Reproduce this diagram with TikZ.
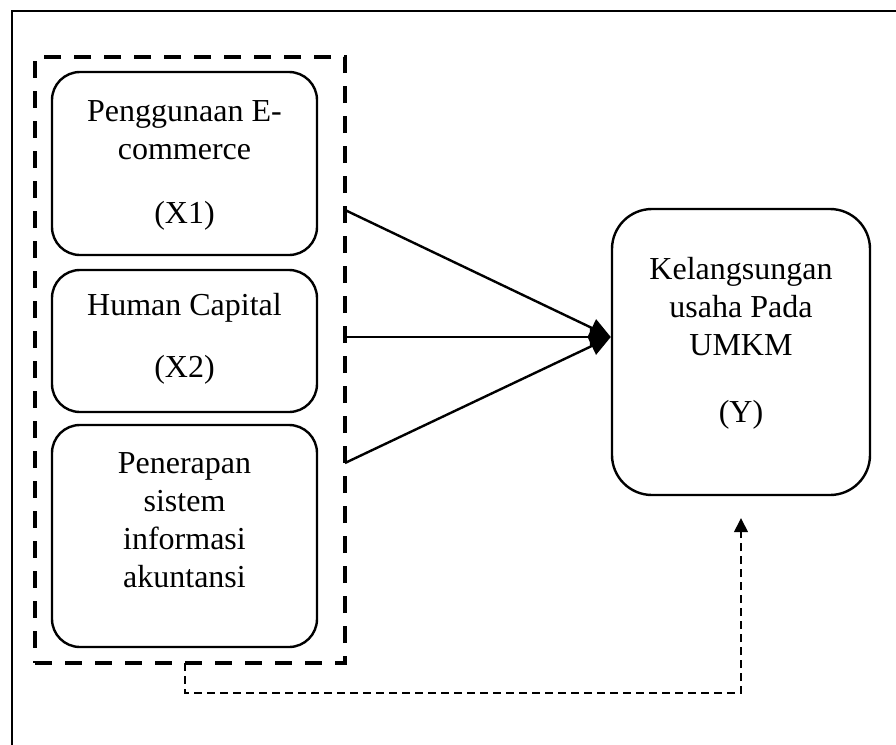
\documentclass[tikz,border=0pt]{standalone}
\usepackage{fontspec}
\setmainfont{Liberation Serif}
\usetikzlibrary{arrows.meta,positioning}

\begin{document}
\begin{tikzpicture}[x=0.5pt,y=-0.5pt,
  varbox/.style={rectangle, draw, line width=1.2pt, rounded corners=14pt, minimum width=132.5pt},
  vartext/.style={align=center, font=\fontsize{16}{19}\selectfont},
  arr/.style={line width=1.2pt, -{Triangle[length=10.5pt,width=9.5pt]}},
  feedback/.style={line width=0.7pt, dash pattern=on 4pt off 2.5pt, -{Triangle[length=7pt,width=7pt]}}]
\useasboundingbox (0,0) rectangle (896,745);

% Bingkai
\draw[line width=0.8pt] (12,760) -- (12,11) -- (910,11);

% Variabel X
\node[rectangle, draw, line width=2.4pt, dash pattern=on 8.5pt off 6.5pt, minimum width=155pt, minimum height=303pt] (grp) at (190,360) {};
\node[varbox, minimum height=91.5pt] (x1) at (184.5,163.5) {};
\node[varbox, minimum height=71pt] (x2) at (184.5,341) {};
\node[varbox, minimum height=111pt] (x3) at (184.5,536) {};
\node[vartext] (t1) at (184.5,165) {Penggunaan E-\\commerce\\[13pt](X1)};
\node[vartext] (t2) at (184.5,339) {Human Capital\\[12pt](X2)};
\node[vartext] (t3) at (184.5,520) {Penerapan\\sistem\\informasi\\akuntansi};

% Variabel Y
\node[varbox, rounded corners=20pt, minimum width=129pt, minimum height=143pt] (y) at (741,352) {};
\node[vartext] (ty) at (741,343.5) {Kelangsungan\\usaha Pada\\UMKM\\[14.5pt](Y)};

% Panah
\coordinate (a1) at (345,210);
\coordinate (a2) at (345,337);
\coordinate (a3) at (345,463);
\draw[arr] (a1) -- (y.west |- a2);
\draw[arr] (a2) -- (y.west |- a2);
\draw[arr] (a3) -- (y.west |- a2);

% Simultan
\coordinate (b1) at (185,663);
\draw[feedback] (b1) -- ++(0,30) -| ([yshift=-11pt]y.south);
\end{tikzpicture}
\end{document}
